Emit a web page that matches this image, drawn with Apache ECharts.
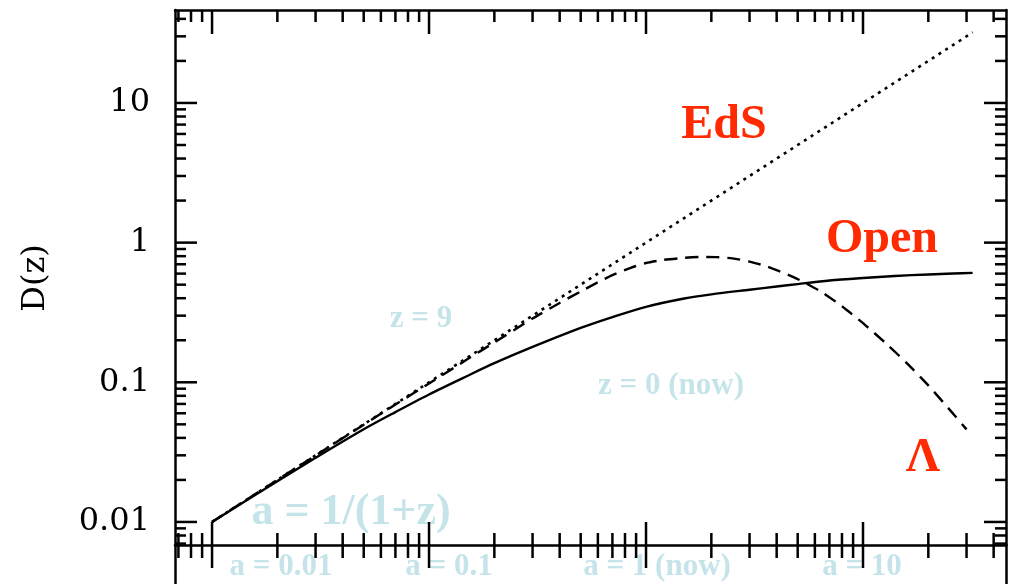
<!DOCTYPE html>
<html>
<head>
<meta charset="utf-8">
<script src="https://cdn.jsdelivr.net/npm/echarts@6/dist/echarts.min.js"></script>
<style>
  html, body { margin: 0; padding: 0; background: #fff; }
  #chart { width: 1010px; height: 584px; }
</style>
</head>
<body>
<div id="chart"></div>
<script>
// growth factor D against expansion factor a = 1/(1+z)
const aEdS = [0.01, 32];
const dEdS = [0.01, 32];

const aOpen = [0.01, 0.02, 0.03, 0.05, 0.07, 0.1, 0.15, 0.2, 0.3, 0.5, 0.7, 1, 1.5, 2, 3, 4, 5, 7, 10, 14, 20, 26, 32];
const dOpen = [0.01, 0.0196, 0.0288, 0.0461, 0.0612, 0.0818, 0.111, 0.137, 0.179, 0.245, 0.293, 0.347, 0.398, 0.426, 0.46, 0.485, 0.505, 0.535, 0.558, 0.577, 0.592, 0.601, 0.607];

const aLambda = [0.01, 0.02, 0.03, 0.05, 0.07, 0.1, 0.15, 0.2, 0.3, 0.4, 0.5, 0.6, 0.7, 0.85, 1, 1.2, 1.5, 1.8, 2.1, 2.5, 3, 3.5, 4, 4.5, 5, 5.5, 6.5, 8, 10, 13, 16, 20, 25, 30];
const dLambda = [0.01, 0.02, 0.0299, 0.0497, 0.0693, 0.098, 0.146, 0.193, 0.286, 0.37, 0.447, 0.52, 0.585, 0.66, 0.715, 0.752, 0.778, 0.789, 0.788, 0.772, 0.732, 0.686, 0.636, 0.59, 0.548, 0.508, 0.44, 0.35, 0.265, 0.185, 0.136, 0.095, 0.064, 0.046];

// axis ticks (same decades on both axes)
const majorTicks = [0.01, 0.1, 1, 10];
const minorTicks = [0.007, 0.008, 0.009,
  0.02, 0.03, 0.04, 0.05, 0.06, 0.07, 0.08, 0.09,
  0.2, 0.3, 0.4, 0.5, 0.6, 0.7, 0.8, 0.9,
  2, 3, 4, 5, 6, 7, 8, 9,
  20, 30, 40];

const X_MIN = 0.00675, X_MAX = 45.6;
const Y_MIN = 0.00684, Y_MAX = 46.3;

const RED = '#ff2a00';
const PALE = '#c5e4ea';

const chart = echarts.init(document.getElementById('chart'));

const axisLine = { show: true, onZero: false, lineStyle: { color: '#000', width: 2.5 } };
const hidden = { show: false };

// tick items: [x, y, kind]  kind 0 = x minor, 1 = x major, 2 = y minor, 3 = y major
const tickData = [];
minorTicks.forEach(v => { if (v < X_MAX) tickData.push([v, 1, 0]); });
majorTicks.forEach(v => tickData.push([v, 1, 1]));
minorTicks.forEach(v => { if (v < Y_MAX && v > Y_MIN) tickData.push([1, v, 2]); });
majorTicks.forEach(v => tickData.push([1, v, 3]));

function renderTick(params, api) {
  const cs = params.coordSys;
  const kind = api.value(2);
  const style = { stroke: '#000', lineWidth: 2.5 };
  if (kind < 2) {
    const px = api.coord([api.value(0), 1])[0];
    const major = kind === 1;
    const inLen = major ? 24 : 12;
    const bottom = cs.y + cs.height;
    return {
      type: 'group',
      children: [
        { type: 'line', shape: { x1: px, y1: cs.y, x2: px, y2: cs.y + inLen }, style: style },
        { type: 'line', shape: { x1: px, y1: bottom - (major ? 23 : 12), x2: px, y2: bottom + (major ? 23 : 13) }, style: style }
      ]
    };
  }
  const py = api.coord([1, api.value(1)])[1];
  const len = kind === 3 ? 22 : 11;
  const right = cs.x + cs.width;
  return {
    type: 'group',
    children: [
      { type: 'line', shape: { x1: cs.x, y1: py, x2: cs.x + len, y2: py }, style: style },
      { type: 'line', shape: { x1: right - len, y1: py, x2: right, y2: py }, style: style }
    ]
  };
}

function paleText(text, x, y, size) {
  return {
    type: 'text', x: x, y: y, z: -10,
    style: {
      text: text, fill: PALE, align: 'center', verticalAlign: 'middle',
      font: 'bold ' + size + 'px "Liberation Serif"'
    }
  };
}
function redText(text, x, y) {
  return {
    type: 'text', x: x, y: y, z: 100,
    style: {
      text: text, fill: RED, align: 'center', verticalAlign: 'middle',
      font: 'bold 48px "Liberation Serif"'
    }
  };
}

const option = {
  animation: false,
  backgroundColor: '#fff',
  grid: [
    { left: 175, right: 4, top: 10, bottom: 39 },
    { left: 175, right: 4, top: 545, bottom: -5 }
  ],
  xAxis: [
    { gridIndex: 0, type: 'log', min: X_MIN, max: X_MAX, position: 'bottom',
      axisLine: axisLine, axisTick: hidden, axisLabel: hidden, splitLine: hidden },
    { gridIndex: 0, type: 'log', min: X_MIN, max: X_MAX, position: 'top',
      axisLine: axisLine, axisTick: hidden, axisLabel: hidden, splitLine: hidden },
    { gridIndex: 1, type: 'value', show: false }
  ],
  yAxis: [
    { gridIndex: 0, type: 'log', min: Y_MIN, max: Y_MAX, position: 'left',
      axisLine: axisLine, axisTick: hidden, splitLine: hidden,
      axisLabel: {
        margin: 25, color: '#000', fontFamily: 'DejaVu Serif', fontSize: 32,
        showMinLabel: false, showMaxLabel: false,
        formatter: v => String(+Number(v).toPrecision(3))
      } },
    { gridIndex: 0, type: 'log', min: Y_MIN, max: Y_MAX, position: 'right',
      axisLine: axisLine, axisTick: hidden, axisLabel: hidden, splitLine: hidden },
    { gridIndex: 1, type: 'value', position: 'left',
      axisLine: axisLine, axisTick: hidden, axisLabel: hidden, splitLine: hidden },
    { gridIndex: 1, type: 'value', position: 'right',
      axisLine: axisLine, axisTick: hidden, axisLabel: hidden, splitLine: hidden }
  ],
  series: [
    {
      name: 'EdS', type: 'line', xAxisIndex: 0, yAxisIndex: 0,
      data: aEdS.map((a, i) => [a, dEdS[i]]),
      showSymbol: false, lineStyle: { color: '#000', width: 2.6, type: [3, 5] }
    },
    {
      name: 'Open', type: 'line', xAxisIndex: 0, yAxisIndex: 0,
      data: aOpen.map((a, i) => [a, dOpen[i]]),
      showSymbol: false, smooth: 0.3, lineStyle: { color: '#000', width: 2.4 }
    },
    {
      name: 'Lambda', type: 'line', xAxisIndex: 0, yAxisIndex: 0,
      data: aLambda.map((a, i) => [a, dLambda[i]]),
      showSymbol: false, smooth: 0.2, lineStyle: { color: '#000', width: 2.4, type: [13, 8] }
    },
    {
      name: 'ticks', type: 'custom', xAxisIndex: 0, yAxisIndex: 0,
      clip: false, silent: true,
      renderItem: renderTick,
      encode: { x: 0, y: 1 },
      data: tickData
    }
  ],
  graphic: [
    {
      type: 'text', x: 36, y: 278, rotation: Math.PI / 2,
      style: { text: 'D(z)', fill: '#000', align: 'center', verticalAlign: 'middle',
        font: '32px "DejaVu Serif"' }
    },
    redText('EdS', 724, 126),
    redText('Open', 882, 240),
    redText('Λ', 923, 459),
    paleText('a = 1/(1+z)', 351, 513, 44),
    paleText('z = 9', 421, 319, 31),
    paleText('z = 0 (now)', 671, 386, 31),
    paleText('a = 0.01', 281, 567, 31),
    paleText('a = 0.1', 449, 567, 31),
    paleText('a = 1 (now)', 657, 567, 31),
    paleText('a = 10', 862, 567, 31)
  ]
};

chart.setOption(option);
window.addEventListener('resize', () => chart.resize());
</script>
</body>
</html>
